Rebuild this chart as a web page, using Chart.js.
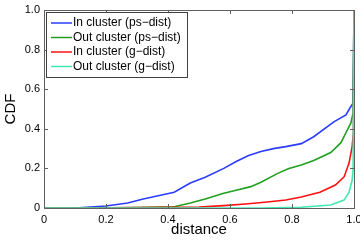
<!DOCTYPE html>
<html>
<head>
<meta charset="utf-8">
<script src="https://cdn.jsdelivr.net/npm/chart.js@4"></script>
<style>
  html, body { margin: 0; padding: 0; background: #fff; }
  #wrap { width: 360px; height: 241px; }
</style>
</head>
<body>
<div id="wrap"><canvas id="cdfChart" width="360" height="241"></canvas></div>
<script>
// distance / CDF values
const blueX  = [0, 0.1, 0.2, 0.27, 0.32, 0.42, 0.472, 0.52, 0.58, 0.62, 0.66, 0.7, 0.74, 0.78, 0.83, 0.87, 0.935, 0.974, 0.987, 0.997, 1];
const blueY  = [0, 0, 0.01, 0.025, 0.045, 0.08, 0.126, 0.155, 0.2, 0.235, 0.265, 0.285, 0.3, 0.31, 0.325, 0.36, 0.435, 0.47, 0.505, 0.53, 1];
const greenX = [0, 0.1, 0.3, 0.42, 0.472, 0.52, 0.58, 0.62, 0.667, 0.7, 0.754, 0.79, 0.83, 0.87, 0.925, 0.958, 0.974, 0.99, 0.997, 1];
const greenY = [0, 0, 0.002, 0.006, 0.025, 0.045, 0.075, 0.09, 0.108, 0.13, 0.175, 0.2, 0.217, 0.24, 0.28, 0.33, 0.38, 0.43, 0.48, 1];
const redX   = [0, 0.13, 0.3, 0.5, 0.58, 0.65, 0.72, 0.78, 0.83, 0.89, 0.94, 0.968, 0.984, 0.994, 0.998, 1];
const redY   = [0, 0, 0.002, 0.005, 0.012, 0.02, 0.03, 0.04, 0.056, 0.08, 0.116, 0.157, 0.227, 0.31, 0.38, 1];
const cyanX  = [0, 0.7, 0.83, 0.925, 0.968, 0.984, 0.994, 0.997, 1];
const cyanY  = [0, 0, 0.004, 0.015, 0.04, 0.08, 0.14, 0.19, 1];

const seriesLabels = ["In cluster (ps\u2212dist)", "Out cluster (ps\u2212dist)", "In cluster (g\u2212dist)", "Out cluster (g\u2212dist)"];
const seriesColors = ["#2a3cff", "#20a020", "#ff1010", "#40e8b0"];
const tickValues = [0, 0.2, 0.4, 0.6, 0.8, 1];

const FONT = "'Liberation Sans', Arial, sans-serif";

function pts(xs, ys) {
  return xs.map((x, i) => ({ x: x, y: ys[i] }));
}

// inward ticks + box around plot, MATLAB style
const boxPlugin = {
  id: "box",
  afterDatasetsDraw(chart) {
    const c = chart.ctx, a = chart.chartArea;
    const xs = chart.scales.x, ys = chart.scales.y;
    c.save();
    c.strokeStyle = "#606060";
    c.lineWidth = 1;
    c.beginPath();
    tickValues.forEach(v => {
      const px = Math.round(xs.getPixelForValue(v)) + 0.5;
      c.moveTo(px, a.bottom); c.lineTo(px, a.bottom - 4);
      c.moveTo(px, a.top); c.lineTo(px, a.top + 4);
      const py = Math.round(ys.getPixelForValue(v)) + 0.5;
      c.moveTo(a.left, py); c.lineTo(a.left + 4, py);
      c.moveTo(a.right, py); c.lineTo(a.right - 4, py);
    });
    c.stroke();
    c.strokeRect(Math.round(a.left) + 0.5, Math.round(a.top) + 0.5,
                 Math.round(a.right - a.left), Math.round(a.bottom - a.top));
    c.restore();
  },
  afterDraw(chart) {
    // legend box, top-left inside plot
    const c = chart.ctx, a = chart.chartArea;
    const lx = a.left + 2, ly = a.top + 2, lw = 141, lh = 65;
    c.save();
    c.fillStyle = "#fff";
    c.fillRect(lx, ly, lw, lh);
    c.strokeStyle = "#404040";
    c.lineWidth = 1;
    c.strokeRect(lx + 0.5, ly + 0.5, lw, lh);
    c.font = "12px " + FONT;
    c.textBaseline = "middle";
    seriesLabels.forEach((lab, i) => {
      const yy = ly + 11 + i * 14.5;
      c.strokeStyle = seriesColors[i];
      c.lineWidth = 1.5;
      c.beginPath();
      c.moveTo(lx + 5, yy); c.lineTo(lx + 26, yy);
      c.stroke();
      c.fillStyle = "#000";
      c.fillText(lab, lx + 27, yy);
    });
    c.restore();
  }
};

const ctx = document.getElementById("cdfChart").getContext("2d");
const chart = new Chart(ctx, {
  type: "line",
  data: {
    datasets: [
      { label: seriesLabels[0], data: pts(blueX, blueY), borderColor: seriesColors[0], order: 4 },
      { label: seriesLabels[1], data: pts(greenX, greenY), borderColor: seriesColors[1], order: 3 },
      { label: seriesLabels[2], data: pts(redX, redY), borderColor: seriesColors[2], order: 2 },
      { label: seriesLabels[3], data: pts(cyanX, cyanY), borderColor: seriesColors[3], order: 1 }
    ]
  },
  options: {
    responsive: false,
    animation: false,
    layout: { padding: { top: 10, right: 6, left: 0, bottom: 0 } },
    elements: {
      point: { radius: 0 },
      line: { borderWidth: 1.6, tension: 0 }
    },
    datasets: { line: { clip: false } },
    plugins: { legend: { display: false }, tooltip: { enabled: false } },
    scales: {
      x: {
        type: "linear", min: 0, max: 1,
        afterFit: s => { s.height = 33; s.paddingLeft = 0; s.paddingRight = 0; },
        grid: { display: false, drawTicks: false },
        border: { display: false },
        ticks: { stepSize: 0.2, padding: 5, color: "#000", font: { family: FONT, size: 11 } },
        title: { display: true, text: "distance", color: "#000", font: { family: FONT, size: 15 }, padding: { top: 0, bottom: 2 } }
      },
      y: {
        min: 0, max: 1,
        afterFit: s => { s.width = 44; s.paddingTop = 0; s.paddingBottom = 0; },
        grid: { display: false, drawTicks: false },
        border: { display: false },
        ticks: { stepSize: 0.2, padding: 4, color: "#000", font: { family: FONT, size: 11 } },
        title: { display: true, text: "CDF", color: "#000", font: { family: FONT, size: 15 }, padding: { top: 2, bottom: 0 } }
      }
    }
  },
  plugins: [boxPlugin]
});
</script>
</body>
</html>
